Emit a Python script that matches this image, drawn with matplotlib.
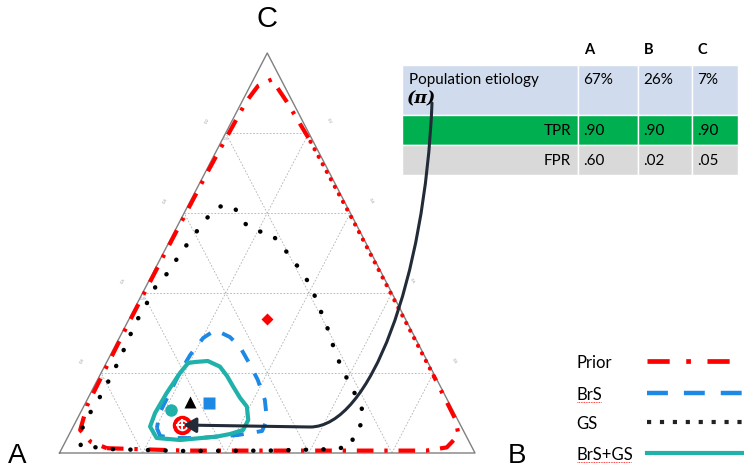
import numpy as np
import matplotlib.pyplot as plt
from matplotlib.path import Path
from matplotlib.patches import FancyArrowPatch, Rectangle

plt.rcParams['font.family'] = ['Lato', 'DejaVu Sans']

# point estimates, shares of (A, B, C)
truth = (0.67, 0.26, 0.07)
prior_mean = (0.333, 0.333, 0.334)
brs_mean = (0.578, 0.298, 0.124)
gs_mean = (0.622, 0.250, 0.128)
both_mean = (0.678, 0.214, 0.108)

# contours given as B and C shares (A = 1 - B - C)
prior_b = [0.108, 0.30, 0.50, 0.70, 0.88, 0.925, 0.938, 0.91, 0.805, 0.605, 0.405, 0.205,
           0.108, 0.044, 0.019, 0.010, 0.005, 0.004, 0.004, 0.007, 0.021, 0.061, 0.108]
prior_c = [0.012, 0.006, 0.006, 0.006, 0.006, 0.014, 0.045, 0.085, 0.192, 0.392, 0.592, 0.788,
           0.878, 0.934, 0.918, 0.878, 0.70, 0.50, 0.30, 0.12, 0.0575, 0.028, 0.012]

gs_b = [0.041, 0.024, 0.023, 0.027, 0.028, 0.028, 0.027, 0.024, 0.021, 0.021, 0.024, 0.023,
        0.036, 0.040, 0.046, 0.053, 0.061, 0.074, 0.110, 0.147, 0.189, 0.228, 0.271, 0.312,
        0.353, 0.391, 0.426, 0.460, 0.493, 0.525, 0.559, 0.594, 0.632, 0.668, 0.692, 0.681,
        0.696, 0.662, 0.50, 0.30, 0.108, 0.041]
gs_c = [0.020, 0.059, 0.097, 0.1325, 0.1675, 0.203, 0.241, 0.280, 0.316, 0.353, 0.388, 0.424,
        0.451, 0.487, 0.520, 0.553, 0.587, 0.616, 0.618, 0.5825, 0.554, 0.553, 0.5225, 0.489,
        0.456, 0.422, 0.384, 0.345, 0.3075, 0.2675, 0.228, 0.191, 0.153, 0.118, 0.076, 0.0475,
        0.020, 0.010, 0.006, 0.005, 0.010, 0.020]

brs_b = [0.203, 0.221, 0.259, 0.319, 0.407, 0.460, 0.458, 0.428, 0.386, 0.349, 0.302, 0.265,
         0.221, 0.202, 0.192, 0.189, 0.190, 0.191, 0.203]
brs_c = [0.0625, 0.0425, 0.0375, 0.0375, 0.045, 0.055, 0.0825, 0.1325, 0.1825, 0.22, 0.265,
         0.29, 0.3075, 0.2875, 0.245, 0.2025, 0.1525, 0.1025, 0.0625]

both_b = [0.197, 0.212, 0.242, 0.278, 0.307, 0.335, 0.366, 0.393, 0.413, 0.413, 0.387, 0.358,
          0.274, 0.215, 0.185, 0.180, 0.183, 0.190, 0.197]
both_c = [0.225, 0.2275, 0.23, 0.216, 0.1925, 0.166, 0.1375, 0.116, 0.0825, 0.0575, 0.0475,
          0.041, 0.0325, 0.0375, 0.066, 0.10, 0.15, 0.20, 0.225]

grid_levels = [0.2, 0.4, 0.6, 0.8]

# table
col_names = ['A', 'B', 'C']
pi_vals = ['67%', '26%', '7%']
tpr_vals = ['.90', '.90', '.90']
fpr_vals = ['.60', '.02', '.05']

legend_names = ['Prior', 'BrS', 'GS', 'BrS+GS']

RED = '#ff0000'
BLUE = '#1e88e5'
TEAL = '#20b2aa'
NAVY = '#222b38'


def xy(b, c):
    b = np.asarray(b, float)
    c = np.asarray(c, float)
    return b + c / 2, c


fig = plt.figure(figsize=(7.44, 4.69), dpi=100)
# ternary axes sits on the triangle's bounding box
ax = fig.add_axes([59.5 / 744, 16 / 469, 415.5 / 744, 400 / 469])
ax.set_xlim(0, 1)
ax.set_ylim(0, 1)
ax.axis('off')

# overlay in pixel units for table, legend, labels
ov = fig.add_axes([0, 0, 1, 1])
ov.set_xlim(0, 744)
ov.set_ylim(469, 0)
ov.axis('off')

# frame and grid
ax.plot([0, 1, 0.5, 0], [0, 0, 1, 0], color='#808080', lw=1, clip_on=False, zorder=2)
for g in grid_levels:
    for p, q in [((0, g), (1 - g, g)), ((g, 0), (g, 1 - g)), ((1 - g, 0), (0, 1 - g))]:
        x, y = xy([p[0], q[0]], [p[1], q[1]])
        ax.plot(x, y, color='#b0b0b0', lw=0.6, ls=(0, (2, 2)), zorder=1)
    # tiny tick labels
    x, y = xy(0.0, 1 - g)
    ax.text(x, y - 0.01, f'{1 - g:.1f}', fontsize=3, color='#999999', ha='center', va='top')
    x, y = xy(0, g)
    ax.text(x - 0.045, y + 0.03, f'{1 - g:.1f}', fontsize=3, color='#999999', rotation=60,
            ha='center', va='center')
    x, y = xy(1 - g, g)
    ax.text(x + 0.05, y + 0.03, f'{1 - g:.1f}', fontsize=3, color='#999999', rotation=-60,
            ha='center', va='center')

# contours (the prior's B-C side is drawn dotted, as in the original)
x, y = xy(prior_b, prior_c)
ax.plot(x[:9], y[:9], color=RED, lw=3, ls=(0, (4, 2.6, 0.8, 2.6)), clip_on=False, zorder=3)
ax.plot(x[8:12], y[8:12], color=RED, lw=3, ls=(0, (0.05, 2.0)), dash_capstyle='round',
        clip_on=False, zorder=3)
ax.plot(x[11:], y[11:], color=RED, lw=3, ls=(0, (4, 2.6, 0.8, 2.6)), clip_on=False, zorder=3)
x, y = xy(gs_b, gs_c)
ax.plot(x, y, color='black', lw=3.2, ls=(0, (0.05, 3.9)), dash_capstyle='round', zorder=4)
x, y = xy(brs_b, brs_c)
ax.plot(x, y, color=BLUE, lw=2.8, ls=(0, (3.4, 3.4)), zorder=4)
x, y = xy(both_b, both_c)
ax.plot(x, y, color=TEAL, lw=3, solid_joinstyle='round', zorder=5)

# point estimates
x, y = xy(prior_mean[1], prior_mean[2])
ax.plot(x, y, 'D', color=RED, ms=6.5, mec='none', zorder=6)
x, y = xy(brs_mean[1], brs_mean[2])
ax.plot(x, y, 's', color=BLUE, ms=8, mec='none', zorder=6)
x, y = xy(gs_mean[1], gs_mean[2])
ax.plot(x, y, '^', color='black', ms=9, mec='none', zorder=6)
x, y = xy(both_mean[1], both_mean[2])
ax.plot(x, y, 'o', color=TEAL, ms=9, mec='none', zorder=6)
tx, ty = xy(truth[1], truth[2])
ax.plot(tx, ty, 'o', color=RED, ms=14, mec='none', zorder=7)
ax.plot(tx, ty, 'o', mfc='none', mec='white', ms=7, mew=1.3, zorder=8)
ax.plot(tx, ty, '+', color='white', ms=8, mew=1.5, zorder=8)

# vertex labels
ov.text(17, 456, 'A', fontsize=20, family='Liberation Sans', ha='center', va='center')
ov.text(517, 456, 'B', fontsize=20, family='Liberation Sans', ha='center', va='center')
ov.text(267.5, 19, 'C', fontsize=21, family='Liberation Sans', ha='center', va='center')

# table
col_x = [401.7, 578.3, 638.3, 691.7, 738.3]
row_y = [65, 115, 145, 175]
row_col = ['#d0dcee', '#00b050', '#d9d9d9']
for i in range(3):
    for j in range(4):
        ov.add_patch(Rectangle((col_x[j], row_y[i]), col_x[j + 1] - col_x[j],
                               row_y[i + 1] - row_y[i], facecolor=row_col[i],
                               edgecolor='white', lw=1, zorder=2))
for j, name in enumerate(col_names):
    ov.text(col_x[j + 1] + 6, 50, name, fontsize=10.5, weight='bold', va='center', zorder=5)
    ov.text(col_x[j + 1] + 5, 80, pi_vals[j], fontsize=11, va='center', zorder=5)
    ov.text(col_x[j + 1] + 5, 131, tpr_vals[j], fontsize=11, va='center', zorder=5)
    ov.text(col_x[j + 1] + 5, 161, fpr_vals[j], fontsize=11, va='center', zorder=5)
ov.text(409, 80, 'Population etiology', fontsize=11, va='center', zorder=5)
ov.text(407, 99, '(\u03c0)', fontsize=12.5, family='DejaVu Serif', weight='bold',
        style='italic', va='center', zorder=5)
ov.text(571, 131, 'TPR', fontsize=11, ha='right', va='center', zorder=5)
ov.text(571, 161, 'FPR', fontsize=11, ha='right', va='center', zorder=5)

# arrow from the table to the true etiology, drawn over the table
end = ov.transData.inverted().transform(ax.transData.transform((tx, ty)))
verts = [(432, 103), (425, 280), (370, 427), (310, 427), (end[0] + 1, end[1])]
codes = [Path.MOVETO, Path.CURVE4, Path.CURVE4, Path.CURVE4, Path.LINETO]
arrow = FancyArrowPatch(path=Path(verts, codes), arrowstyle='-|>,head_length=0.55,head_width=0.32',
                        mutation_scale=14, color=NAVY, lw=2.2, zorder=6)
ov.add_patch(arrow)

# legend
leg_y = [361, 393, 422, 453]
leg_ls = [(0, (4.7, 3.5, 1, 3.5)), (0, (4.7, 3.6)), (0, (1, 2.1)), '-']
leg_col = [RED, BLUE, '#222222', TEAL]
leg_lw = [3.4, 3.2, 3, 3]
for k, name in enumerate(legend_names):
    ov.text(576, leg_y[k] + 2, name, fontsize=12, va='center')
    ov.plot([647, 744], [leg_y[k], leg_y[k]], color=leg_col[k], lw=leg_lw[k], ls=leg_ls[k],
            clip_on=False)
ov.plot([577, 601], [402, 402], color=RED, lw=0.6, ls=(0, (1, 1)))
ov.plot([577, 631], [462, 462], color=RED, lw=0.6, ls=(0, (1, 1)))

fig.savefig('out.png', dpi=100)
